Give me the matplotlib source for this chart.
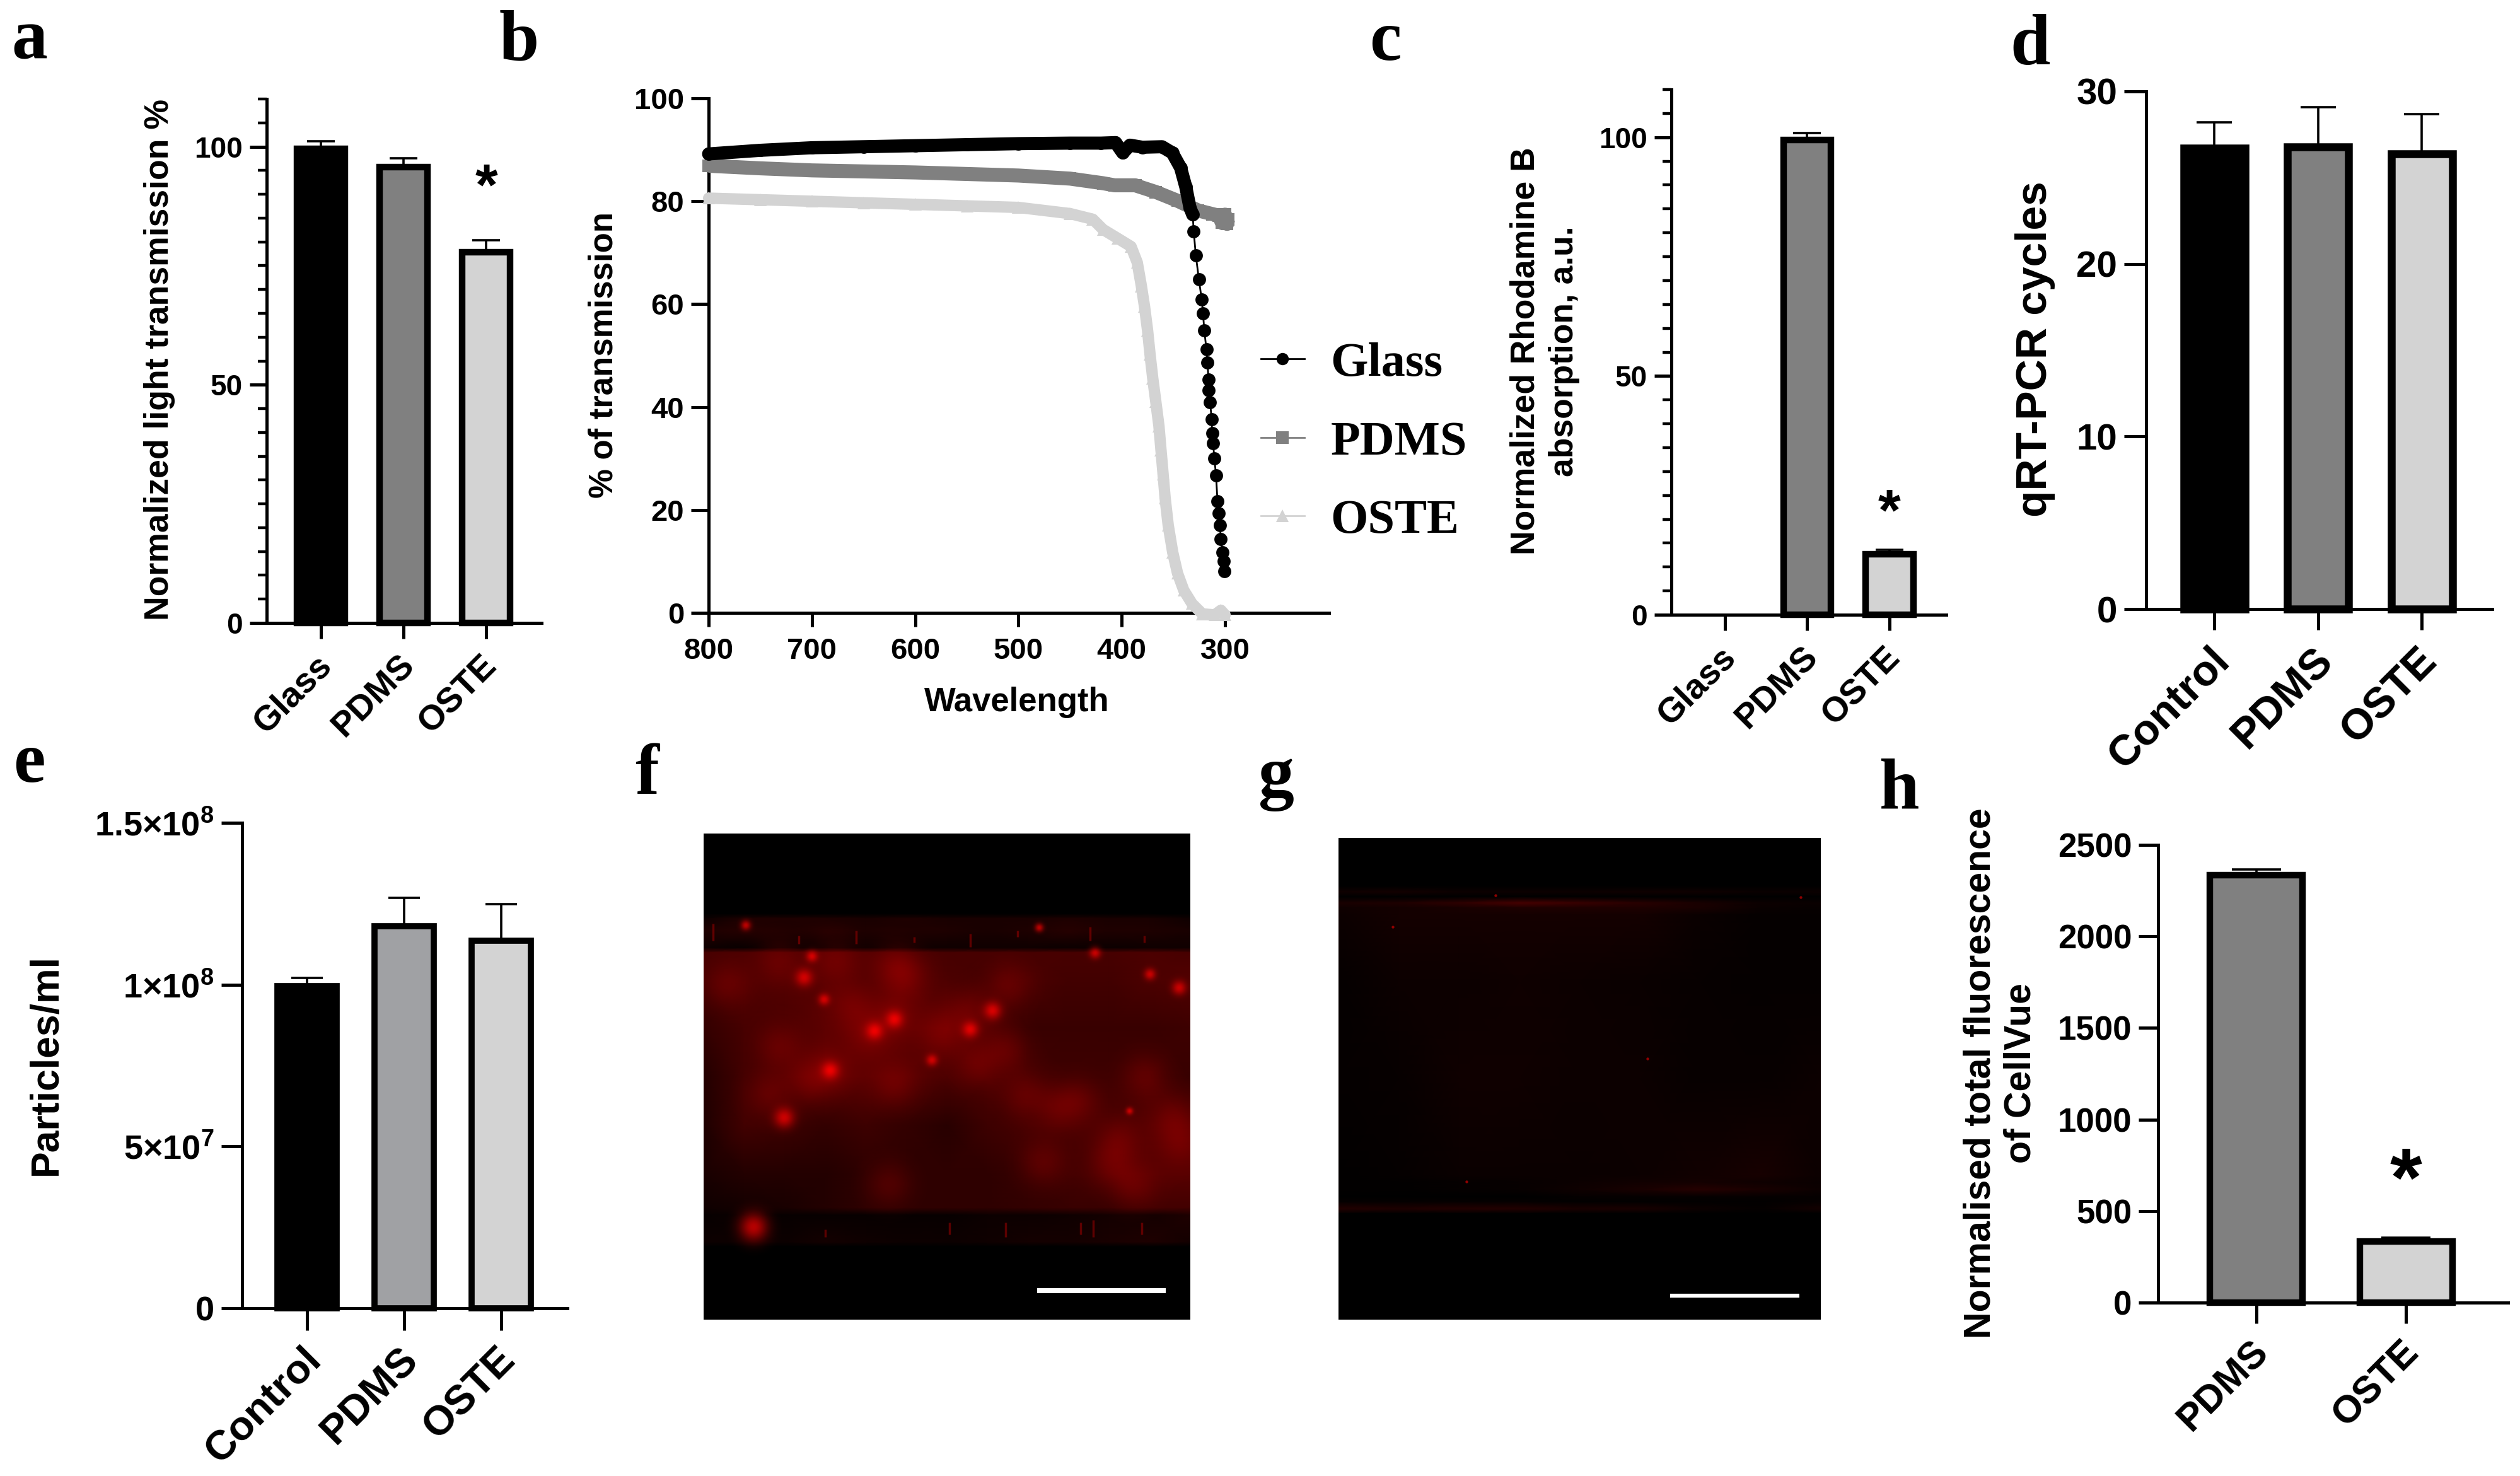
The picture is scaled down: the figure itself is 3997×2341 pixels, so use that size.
import numpy as np
import matplotlib
matplotlib.use("Agg")
import matplotlib.pyplot as plt
from matplotlib.colors import LinearSegmentedColormap
from matplotlib.transforms import ScaledTranslation

W, H = 3997, 2341
plt.rcParams["font.family"] = ["Liberation Sans", "DejaVu Sans"]
plt.rcParams["font.weight"] = "bold"
plt.rcParams["mathtext.fontset"] = "custom"
plt.rcParams["mathtext.bf"] = "Liberation Sans:bold"
plt.rcParams["mathtext.rm"] = "Liberation Sans:bold"

BLACK = "#000000"
GREY = "#808080"
LIGHT = "#D3D3D3"
MID = "#A0A1A4"

# ---- data ----
a_labels = ["Glass", "PDMS", "OSTE"]
a_values = [99.6, 95.7, 77.9]
a_tops = [101.1, 97.6, 80.4]

c_labels = ["Glass", "PDMS", "OSTE"]
c_values = [0, 99.4, 12.7]
c_tops = [0, 100.9, 13.6]

d_labels = ["Control", "PDMS", "OSTE"]
d_values = [26.7, 26.8, 26.4]
d_tops = [28.2, 29.1, 28.7]

e_labels = ["Control", "PDMS", "OSTE"]
e_values = [0.995e8, 1.18e8, 1.135e8]
e_tops = [1.021e8, 1.268e8, 1.248e8]
e_ticks = [0, 5e7, 1e8, 1.5e8]
e_ticklabels = ["0", r"$\mathbf{5{\times}10^{7}}$", r"$\mathbf{1{\times}10^{8}}$", r"$\mathbf{1.5{\times}10^{8}}$"]

h_labels = ["PDMS", "OSTE"]
h_values = [2335, 335]
h_tops = [2365, 356]

glass_wl = [800, 750, 700, 650, 600, 550, 500, 450, 420, 406, 399, 392, 380, 361, 351, 343, 338, 334,
            331.3, 330.3, 328.3, 325.3, 322.6, 321.3, 320.1, 318, 317, 316, 315.6, 314.4, 313, 312.4,
            311.6, 310.3, 308.7, 307.3, 306, 305, 304, 302.4, 301.5, 300.5]
glass_val = [89.2, 89.9, 90.4, 90.6, 90.8, 91.0, 91.2, 91.3, 91.3, 91.4, 89.4, 90.9, 90.5, 90.6, 89.4, 86.5, 82.8, 78.8,
             77.4, 74.1, 69.5, 64.8, 60.9, 58.2, 54.9, 51.2, 48.6, 45.3, 43.3, 40.9, 37.6, 34.9,
             33, 30, 26.7, 21.7, 19.4, 17, 14.3, 11.8, 10, 8.1]

pdms_wl = [800, 750, 700, 650, 600, 550, 500, 450, 418, 407, 387, 367, 346, 326, 312, 306, 303, 300, 298, 297]
pdms_val = [86.9, 86.4, 86.0, 85.8, 85.6, 85.3, 85.0, 84.4, 83.5, 83.1, 83.1, 81.8, 80.1, 78.2, 77.5, 77.2, 75.8, 77.4, 75.6, 76.5]

oste_wl = [800, 750, 700, 650, 600, 550, 500, 450, 428, 418, 404, 391, 385, 381, 378, 375, 372.6, 370,
           367, 364, 362, 360, 358, 355, 350.7, 346, 340, 332, 322, 310, 304, 300]
oste_val = [80.6, 80.3, 80.0, 79.7, 79.4, 79.1, 78.8, 77.6, 76.5, 74.5, 72.8, 71.2, 68.1, 63.5, 59.6, 54.9, 50.2, 45.6,
            41, 36.3, 31.6, 27, 22.3, 17, 11.8, 7.7, 4.4, 1.8, -0.2, -0.4, 0.5, -0.4]

# micrograph panels: coarse red intensities
f_rows = [0, .165, .175, .20, .235, .245, .30, .40, .50, .60, .70, .77, .785, .84, .85, 1]
f_cols = [i / 12 for i in range(13)]
f_grid = [
    [0] * 13,
    [0] * 13,
    [.05, .12, .12, .12, .10, .12, .10, .10, .10, .12, .10, .10, .06],
    [.12, .15, .12, .15, .12, .12, .12, .10, .12, .15, .12, .12, .10],
    [.06, .03, .05, .05, .05, .06, .06, .06, .06, .05, .05, .06, .06],
    [.28, .30, .30, .34, .32, .30, .28, .28, .28, .28, .28, .30, .28],
    [.28, .30, .32, .34, .32, .34, .30, .26, .30, .26, .26, .30, .32],
    [.20, .28, .30, .36, .38, .36, .38, .30, .22, .22, .22, .22, .24],
    [.14, .26, .30, .36, .36, .34, .30, .30, .26, .24, .24, .26, .22],
    [.12, .26, .24, .20, .24, .20, .16, .24, .28, .28, .28, .32, .32],
    [.10, .14, .14, .14, .18, .18, .18, .18, .22, .26, .30, .34, .34],
    [.06, .08, .10, .14, .18, .18, .18, .18, .20, .22, .22, .26, .26],
    [.03, .05, .03, .03, .03, .03, .03, .05, .05, .06, .08, .08, .12],
    [.05, .05, .05, .08, .06, .05, .05, .06, .08, .08, .10, .12, .08],
    [0] * 13,
    [0] * 13,
]
f_spot_x = [.222, .206, .247, .978, .918, .805, .594, .548, .351, .165, .876, .392, .469, .26, .102, .086, .69]
f_spot_y = [.252, .296, .341, .317, .289, .245, .364, .403, .406, .585, .571, .382, .466, .487, .81, .188, .193]
f_spot_r = [.008, .012, .008, .010, .008, .008, .012, .011, .012, .014, .005, .012, .008, .012, .020, .007, .006]
f_blob_x = [.303, .392, .34, .548, .489, .258, .392, .66, .623, .563, .906, .853, .839, .965, .98,
            .154, .414, .623, .154, .05, .381, .883, .697, .772, .727, .273, .392, .214, .132]
f_blob_y = [.353, .375, .413, .368, .41, .487, .515, .536, .445, .473, .501, .628, .677, .585, .638,
            .262, .294, .311, .438, .311, .722, .726, .677, .55, .564, .262, .269, .508, .536]
f_streak_x = [.02, .195, .314, .433, .548, .645, .794, .905, .8, .775, .505, .62, .25, .9]
f_streak_y0 = [.185, .21, .2, .213, .206, .2, .192, .21, .795, .8, .8, .8, .815, .8]
f_streak_y1 = [.22, .227, .227, .224, .234, .213, .22, .224, .83, .825, .825, .83, .83, .825]

g_rows = [0, .1, .112, .122, .135, .145, .16, .3, .5, .7, .715, .73, .745, .755, .77, .78, 1]
g_cols = [i / 8 for i in range(9)]
g_grid = [
    [0] * 9,
    [0] * 9,
    [.06, .08, .05, .05, .05, .06, .06, .04, .05],
    [0] * 9,
    [.10, .12, .18, .28, .22, .16, .10, .05, .04],
    [.06, .08, .10, .12, .12, .12, .10, .04, .03],
    [.05, .08, .08, .08, .08, .08, .04, .02, .02],
    [.02, .05, .05, .06, .05, .04, .03, .02, .02],
    [.02, .03, .06, .06, .05, .05, .03, .03, .05],
    [.01, .02, .04, .04, .04, .05, .07, .09, .05],
    [.01, .01, .02, .03, .05, .07, .08, .06, .04],
    [.01, .01, .02, .03, .06, .10, .15, .10, .05],
    [0, 0, 0, 0, .02, .02, .02, .02, .02],
    [.02, .02, .02, .02, .01, .01, .01, .01, .03],
    [.14, .12, .14, .14, .10, .10, .05, .02, .08],
    [0] * 9,
    [0] * 9,
]
g_spot_x = [.325, .958, .113, .266, .641]
g_spot_y = [.119, .123, .185, .714, .458]


def px_axes(x0, y0, x1, y1):
    # box in picture pixels, y counted from the top
    return fig.add_axes([x0 / W, 1 - y1 / H, (x1 - x0) / W, (y1 - y0) / H])


def style_axes(ax, lw=3.6):
    for s in ["top", "right"]:
        ax.spines[s].set_visible(False)
    for s in ["left", "bottom"]:
        ax.spines[s].set_linewidth(lw)


def bar_panel(box, xlim, ylim, yticks, labels, values, tops, colors, width, edge, cap,
              tick_fs, label_fs, ytick_len, xtick_len, minor=None, ticklabels=None, xpad=8):
    ax = px_axes(*box)
    style_axes(ax)
    xs = list(range(len(labels)))
    ax.errorbar(xs, values, yerr=[[0] * len(xs), [t - v for t, v in zip(tops, values)]], fmt="none",
                ecolor="k", elinewidth=2.6, capsize=cap, capthick=2.6, zorder=2, clip_on=False)
    # an empty bar should not leave its outline on the axis
    edges = [edge if v > 0 else 0 for v in values]
    ax.bar(xs, values, width=width, color=colors, edgecolor="k", linewidth=edges, zorder=3, clip_on=False)
    ax.set_xlim(*xlim)
    ax.set_ylim(*ylim)
    ax.set_yticks(yticks)
    if ticklabels:
        ax.set_yticklabels(ticklabels)
    if minor:
        ax.set_yticks(minor, minor=True)
        ax.tick_params(axis="y", which="minor", length=ytick_len * 0.5, width=3.2)
    ax.tick_params(axis="y", which="major", length=ytick_len, width=3.6, labelsize=tick_fs, pad=8)
    ax.set_xticks(xs)
    ax.set_xticklabels(labels, rotation=45, ha="right", va="top", rotation_mode="anchor", fontsize=label_fs)
    ax.tick_params(axis="x", length=xtick_len, width=3.6, pad=xpad)
    shift = ScaledTranslation(-0.09, -0.05, fig.dpi_scale_trans)
    for lab in ax.get_xticklabels():
        lab.set_transform(lab.get_transform() + shift)
    return ax


def image_panel(box, cols, rows, grid):
    ax = px_axes(*box)
    ax.pcolormesh(cols, rows, grid, shading="gouraud", cmap=red_map, vmin=0, vmax=1)
    ax.set_xlim(0, 1)
    ax.set_ylim(1, 0)
    ax.axis("off")
    return ax


fig = plt.figure(figsize=(W / 100, H / 100), dpi=100)
red_map = LinearSegmentedColormap.from_list("red_map", ["#000000", "#FF0000"])

# ---- a ----
ax_a = bar_panel((423, 157, 859, 988), (-0.656, 2.67), (0, 110), [0, 50, 100], a_labels, a_values, a_tops,
                 [BLACK, GREY, LIGHT], 0.58, 7.5, 15.5, 33, 40, 19.5, 18,
                 minor=[v for v in range(0, 111, 5)])
ax_a.text(2, 91, "*", ha="center", va="center", fontsize=66)

# ---- b ----
ax_b = px_axes(1124, 156, 2108, 972)
style_axes(ax_b)
ax_b.plot(oste_wl, oste_val, color=LIGHT, lw=13, solid_capstyle="round", clip_on=False, zorder=3)
ax_b.plot(oste_wl, oste_val, color=LIGHT, lw=2, marker="^", ms=15, mew=0, clip_on=False, zorder=3)
ax_b.plot(pdms_wl, pdms_val, color=GREY, lw=16, solid_capstyle="butt", clip_on=False, zorder=4)
ax_b.plot(pdms_wl, pdms_val, color=GREY, lw=2, marker="s", ms=15, mew=0, clip_on=False, zorder=4)
# plateau part of glass is one solid band, the drop shows single points
ax_b.plot([w for w in glass_wl if w >= 331], [v for w, v in zip(glass_wl, glass_val) if w >= 331],
          color=BLACK, lw=15, solid_capstyle="round", clip_on=False, zorder=5)
ax_b.plot(glass_wl, glass_val, color=BLACK, lw=2, marker="o", ms=15, mew=0, clip_on=False, zorder=5)
ax_b.set_xlim(800, 199.3)
ax_b.set_ylim(0, 100)
ax_b.set_xticks([800, 700, 600, 500, 400, 300])
ax_b.set_yticks([0, 20, 40, 60, 80, 100])
ax_b.tick_params(axis="y", length=20, width=3.6, labelsize=34, pad=8)
ax_b.tick_params(axis="x", length=16, width=3.6, labelsize=34, pad=12)
handles = [plt.Line2D([], [], color=c, lw=2, marker=m, ms=14, mew=0)
           for c, m in zip([BLACK, GREY, LIGHT], ["o", "s", "^"])]
fig.legend(handles, ["Glass", "PDMS", "OSTE"], loc="upper left", bbox_to_anchor=(1931 / W, 1 - 474 / H),
           frameon=False, handlelength=0.9, handletextpad=0.55, labelspacing=0.72,
           prop={"family": "Liberation Serif", "weight": "bold", "size": 55})

# ---- c ----
ax_c = bar_panel((2651, 142, 3087, 975), (-0.65, 2.69), (0, 110), [0, 50, 100], c_labels, c_values, c_tops,
                 [GREY, GREY, LIGHT], 0.58, 7.5, 15.5, 33, 40, 19.5, 18,
                 minor=[v for v in range(0, 111, 5)])
ax_c.text(2, 21, "*", ha="center", va="center", fontsize=66)

# ---- d ----
bar_panel((3404, 145, 3953, 966), (-0.658, 2.678), (0, 30), [0, 10, 20, 30], d_labels, d_values, d_tops,
          [BLACK, GREY, LIGHT], 0.59, 9, 20, 42, 49, 25, 24)

# ---- e ----
bar_panel((384, 1305, 900, 2075), (-0.67, 2.68), (0, 1.5e8), e_ticks, e_labels, e_values, e_tops,
          [BLACK, MID, LIGHT], 0.61, 7, 18, 39, 47, 24, 25, ticklabels=e_ticklabels)

# ---- f ----
ax_f = image_panel((1116, 1322, 1888, 2093), f_cols, f_rows, f_grid)
ax_f.vlines(f_streak_x, f_streak_y0, f_streak_y1, color="#900000", lw=2.5, alpha=0.6)
# soft glow around the patches and bright cells
gx, gy = np.meshgrid(np.linspace(0, 1, 500), np.linspace(0, 1, 500))
glow = np.zeros_like(gx)
for x, y in zip(f_blob_x, f_blob_y):
    glow += 0.16 * np.exp(-((gx - x) ** 2 + (gy - y) ** 2) / (2 * 0.032 ** 2))
for x, y, r in zip(f_spot_x, f_spot_y, f_spot_r):
    glow += 0.7 * np.exp(-((gx - x) ** 2 + (gy - y) ** 2) / (2 * r ** 2))
glow_rgba = np.zeros(gx.shape + (4,))
glow_rgba[..., 0] = 1
glow_rgba[..., 3] = np.clip(glow, 0, 1)
ax_f.imshow(glow_rgba, extent=(0, 1, 1, 0), aspect="auto", interpolation="bilinear", zorder=2)
ax_f.set_xlim(0, 1)
ax_f.set_ylim(1, 0)
ax_f.plot([0.685, 0.95], [0.94, 0.94], color="white", lw=5.8, solid_capstyle="butt", zorder=3)

# ---- g ----
ax_g = image_panel((2123, 1329, 2888, 2093), g_cols, g_rows, g_grid)
ax_g.scatter(g_spot_x, g_spot_y, s=10, color="#900000", linewidths=0)
ax_g.plot([0.688, 0.955], [0.95, 0.95], color="white", lw=4.5, solid_capstyle="butt")

# ---- h ----
ax_h = bar_panel((3423, 1340, 3978, 2066), (-0.655, 1.68), (0, 2500), [0, 500, 1000, 1500, 2000, 2500],
                 h_labels, h_values, h_tops, [GREY, LIGHT], 0.62, 7.5, 28, 38, 44, 22, 24)
ax_h.text(1, 646, "*", ha="center", va="center", fontsize=94)

# ---- axis titles, placed by hand like in the figure ----
def vtext(x, y, s, fs, ls=1.05):
    fig.text(x / W, 1 - y / H, s, rotation=90, ha="center", va="center", fontsize=fs, linespacing=ls,
             multialignment="center")


vtext(253, 571, "Normalized light transmission %", 38.5)
vtext(957, 563, "% of transmission", 38)
fig.text(1613 / W, 1 - 1114 / H, "Wavelength", ha="center", va="center", fontsize=38)
vtext(2450, 557, "Normalized Rhodamine B\nabsorption, a.u.", 38.4, ls=1.3)
vtext(3228, 554, "qRT-PCR cycles", 50)
vtext(73, 1688, "Particles/ml", 45)
vtext(3173, 1702, "Normalised total fluorescence\nof CellVue", 42.5, ls=1.22)

# ---- panel letters ----
letters = ["a", "b", "c", "d", "e", "f", "g", "h"]
letter_x = [18, 792, 2172, 3188, 21, 1007, 1996, 2980]
letter_y = [92, 95, 95, 102, 1240, 1259, 1262, 1282]
for s, x, y in zip(letters, letter_x, letter_y):
    fig.text(x / W, 1 - y / H, s, ha="left", va="baseline", fontsize=82, family="Liberation Serif", weight="bold")

fig.savefig("out.png", dpi=100)
